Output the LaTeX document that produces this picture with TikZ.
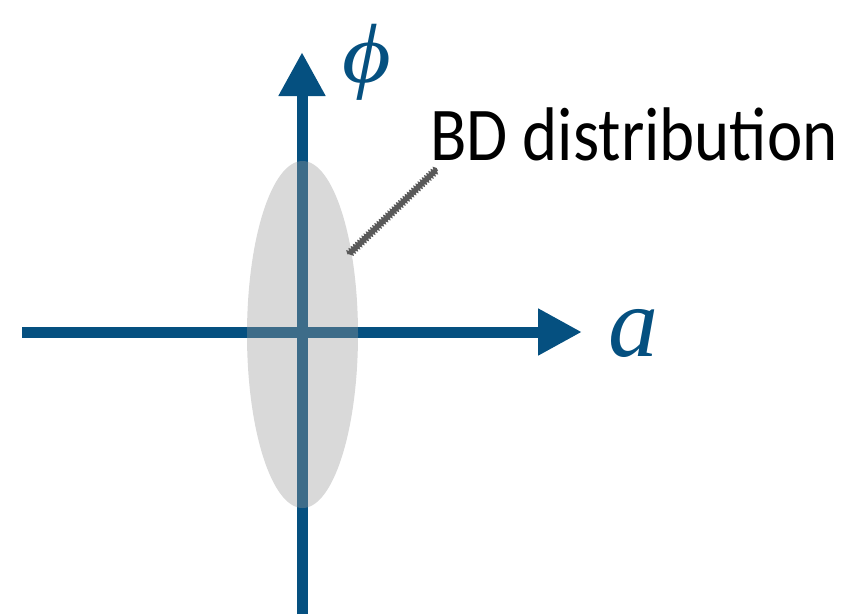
\documentclass[tikz,border=0pt]{standalone}
\usepackage{fontspec}
\newfontfamily\labelfont{Carlito}
\newfontfamily\symfont{Liberation Serif}
\usetikzlibrary{arrows.meta,shapes.geometric,decorations.pathmorphing}
\definecolor{axisblue}{RGB}{5,80,128}
\definecolor{blobgray}{RGB}{154,154,154}
\definecolor{leadgray}{RGB}{89,89,89}
\tikzset{
  axisline/.style={draw=axisblue, line width=11pt, -{Triangle[length=44pt,width=44pt]}},
  blob/.style={ellipse, fill=blobgray, fill opacity=0.38, inner sep=0pt},
  axislabel/.style={text=axisblue, inner sep=0pt},
  leader/.style={draw=leadgray, line width=3.2pt, decorate, decoration={zigzag, segment length=3pt, amplitude=1.4pt}},
}
\begin{document}
\begin{tikzpicture}[x=1pt,y=-1pt]
\useasboundingbox (0,0) rectangle (845,614);
\coordinate (vbot) at (302,614);
\coordinate (vtop) at (302,52);
\coordinate (hleft) at (22,332);
\coordinate (hright) at (582,332);
\draw[axisline] (vbot) -- (vtop);
\draw[axisline] (hleft) -- (hright);
\node[blob, minimum width=111pt, minimum height=347pt] (bd) at (302.5,334.5) {};
\node[axislabel, xscale=1.12, font=\symfont\itshape\fontsize{84}{88}\selectfont] (phi) at (367,62) {ϕ};
\node[axislabel, font=\symfont\itshape\fontsize{100}{100}\selectfont] (alab) at (633,333) {a};
\node[anchor=base west, inner sep=0pt, xscale=0.88, font=\labelfont\fontsize{76}{78}\selectfont] (lbl) at (430,160) {BD distribution};
\coordinate (l1) at (349,254);
\coordinate (l2) at (437,169);
\draw[leader] (l1) -- (l2);
\end{tikzpicture}
\end{document}
